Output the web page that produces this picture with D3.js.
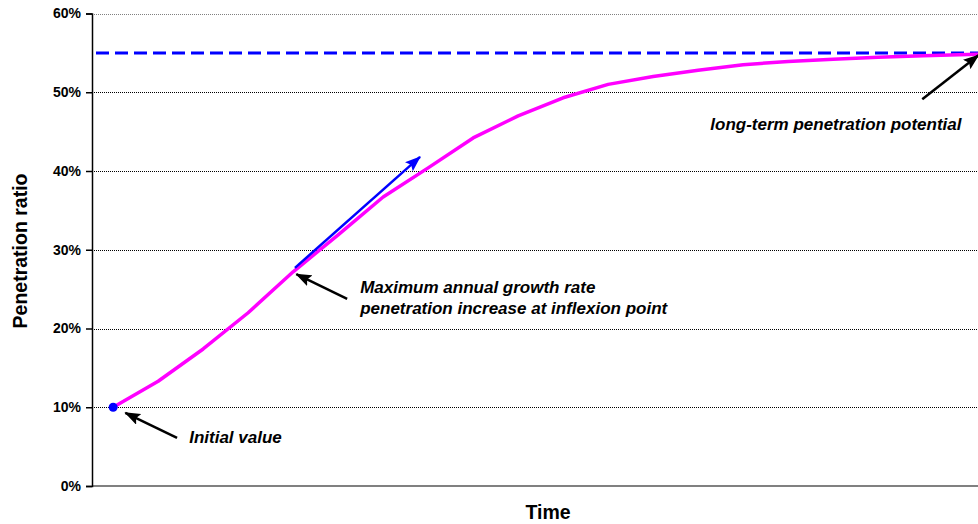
<!DOCTYPE html>
<html lang="en">
<head>
  <meta charset="utf-8">
  <title>Penetration ratio over time</title>
  <script src="https://cdnjs.cloudflare.com/ajax/libs/d3/7.8.5/d3.min.js"></script>
  <style type="text/css">
    body { margin: 0; background: #fff; }
    svg { display: block; font-family: "Liberation Sans", Arial, sans-serif; }
  </style>
</head>
<body>
<div id="chart"></div>
<script>
// periods on the time axis (no labels shown)
var periods = [0, 1, 2, 3, 4, 5, 6, 7, 8, 9, 10, 11, 12, 13, 14, 15, 16, 17, 18, 19, 20];
// penetration ratio in %
var penetration = [10.0, 13.3, 17.4, 22.0, 27.2, 31.9, 36.7, 40.4, 44.2, 47.0, 49.3,
                   51.0, 52.0, 52.8, 53.5, 53.9, 54.2, 54.45, 54.65, 54.8, 54.9];
// long-term potential in %
var potential = 55;
var yTicks = [0, 10, 20, 30, 40, 50, 60];

var width = 978, height = 524;

var svg = d3.select('#chart').append('svg')
    .attr('width', width)
    .attr('height', height);

// scales
var xScale = d3.scaleLinear()
    .domain([-0.47, 20.5])
    .range([92, 92 + 20.97 * 45]);
var yScale = d3.scaleLinear()
    .domain([0, 60])
    .range([486, 13.5]);

// arrow heads
var defs = svg.append('defs');
function arrowHead(id, color) {
  defs.append('marker')
      .attr('id', id)
      .attr('markerUnits', 'userSpaceOnUse')
      .attr('viewBox', '0 0 16 12')
      .attr('markerWidth', 16)
      .attr('markerHeight', 12)
      .attr('refX', 15)
      .attr('refY', 6)
      .attr('orient', 'auto')
    .append('path')
      .attr('d', 'M0,0 L16,6 L0,12 L3,6 z')
      .attr('fill', color);
}
arrowHead('headBlack', '#000');
arrowHead('headBlue', '#0000ff');

// gridlines
svg.append('g').selectAll('line')
    .data(yTicks.filter(function(d) { return d > 0; }))
    .enter().append('line')
    .attr('x1', xScale.range()[0])
    .attr('x2', width)
    .attr('y1', function(d) { return Math.round(yScale(d)) + 0.5; })
    .attr('y2', function(d) { return Math.round(yScale(d)) + 0.5; })
    .attr('stroke', function(d) { return d == 60 ? '#808080' : '#000'; })
    .attr('stroke-width', 1)
    .attr('stroke-dasharray', '1,1');

// x axis (grey base line)
svg.append('line')
    .attr('x1', xScale.range()[0])
    .attr('x2', width)
    .attr('y1', yScale(0))
    .attr('y2', yScale(0))
    .attr('stroke', '#808080')
    .attr('stroke-width', 2);

// y axis
var yAxis = d3.axisLeft(yScale)
    .tickValues(yTicks)
    .tickSize(6)
    .tickPadding(5)
    .tickFormat(function(d) { return d + '%'; });
var gy = svg.append('g')
    .attr('transform', 'translate(' + xScale.range()[0] + ',0)')
    .call(yAxis);
gy.select('.domain').attr('stroke', '#000').attr('stroke-width', 1.5);
gy.selectAll('.tick line').attr('stroke', '#000').attr('stroke-width', 1.5);
gy.selectAll('.tick text')
    .attr('font-family', '"Liberation Sans", Arial, sans-serif')
    .attr('font-size', 14)
    .attr('font-weight', 'bold')
    .attr('fill', '#000');

// long-term potential (dashed)
svg.append('line')
    .attr('x1', xScale.range()[0] + 4)
    .attr('x2', width)
    .attr('y1', yScale(potential))
    .attr('y2', yScale(potential))
    .attr('stroke', '#0000ff')
    .attr('stroke-width', 3)
    .attr('stroke-dasharray', '13,6');

// penetration curve
var line = d3.line()
    .x(function(d, i) { return xScale(periods[i]); })
    .y(function(d) { return yScale(d); });
svg.append('path')
    .datum(penetration)
    .attr('d', line)
    .attr('fill', 'none')
    .attr('stroke', '#ff00ff')
    .attr('stroke-width', 3.5)
    .attr('stroke-linejoin', 'round');

// initial value dot
svg.append('circle')
    .attr('cx', xScale(periods[0]))
    .attr('cy', yScale(penetration[0]))
    .attr('r', 4.5)
    .attr('fill', '#0000ff');

// tangent at inflexion point
svg.append('line')
    .attr('x1', xScale(4.04)).attr('y1', yScale(27.7))
    .attr('x2', xScale(6.82)).attr('y2', yScale(41.8))
    .attr('stroke', '#0000ff')
    .attr('stroke-width', 2.5)
    .attr('marker-end', 'url(#headBlue)');

// annotation arrows
function pointer(x1, y1, x2, y2) {
  svg.append('line')
      .attr('x1', xScale(x1)).attr('y1', yScale(y1))
      .attr('x2', xScale(x2)).attr('y2', yScale(y2))
      .attr('stroke', '#000')
      .attr('stroke-width', 2.5)
      .attr('marker-end', 'url(#headBlack)');
}
pointer(1.42, 6.1, 0.27, 9.3);
pointer(5.2, 23.75, 4.07, 26.9);
pointer(17.98, 49.1, 19.23, 54.7);

// annotation texts
function note(x, y, txt) {
  svg.append('text')
      .attr('x', xScale(x))
      .attr('y', yScale(y))
      .attr('font-size', 17)
      .attr('font-weight', 'bold')
      .attr('font-style', 'italic')
      .attr('fill', '#000')
      .text(txt);
}
note(1.69, 5.4, 'Initial value');
note(5.49, 24.5, 'Maximum annual growth rate');
note(5.49, 21.9, 'penetration increase at inflexion point');
note(13.27, 45.2, 'long-term penetration potential');

// axis titles
svg.append('text')
    .attr('transform', 'translate(27,251) rotate(-90)')
    .attr('text-anchor', 'middle')
    .attr('font-size', 19.5)
    .attr('font-weight', 'bold')
    .text('Penetration ratio');

svg.append('text')
    .attr('x', 548)
    .attr('y', 519)
    .attr('text-anchor', 'middle')
    .attr('font-size', 19.5)
    .attr('font-weight', 'bold')
    .text('Time');
</script>
</body>
</html>
